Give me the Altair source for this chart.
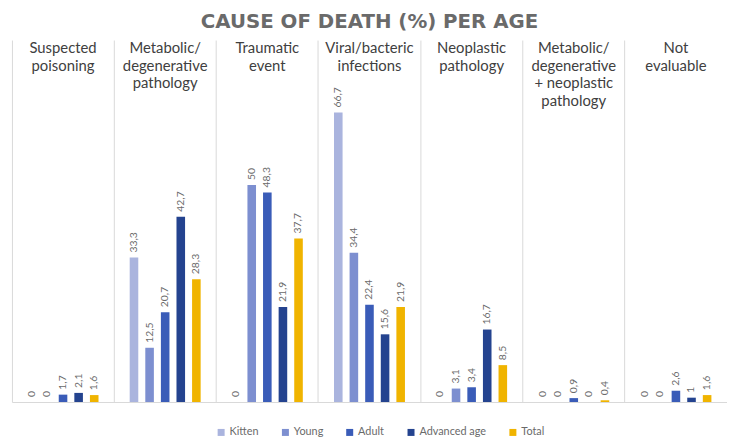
import altair as alt
import pandas as pd

categories = [
    "Suspected poisoning",
    "Metabolic/degenerative pathology",
    "Traumatic event",
    "Viral/bacteric infections",
    "Neoplastic pathology",
    "Metabolic/degenerative + neoplastic pathology",
    "Not evaluable",
]
headers = [
    "Suspected\npoisoning",
    "Metabolic/\ndegenerative\npathology",
    "Traumatic\nevent",
    "Viral/bacteric\ninfections",
    "Neoplastic\npathology",
    "Metabolic/\ndegenerative\n+ neoplastic\npathology",
    "Not\nevaluable",
]
series = ["Kitten", "Young", "Adult", "Advanced age", "Total"]
kitten = [0, 33.3, 0, 66.7, 0, 0, 0]
young = [0, 12.5, 50, 34.4, 3.1, 0, 0]
adult = [1.7, 20.7, 48.3, 22.4, 3.4, 0.9, 2.6]
advanced = [2.1, 42.7, 21.9, 15.6, 16.7, 0, 1]
total = [1.6, 28.3, 37.7, 21.9, 8.5, 0.4, 1.6]
colors = ["#aab4de", "#7d8fd0", "#3a5cb8", "#24438f", "#f0b400"]

values = [kitten, young, adult, advanced, total]


def fmt(v):
    s = str(int(v)) if float(v).is_integer() else str(v)
    return s.replace(".", ",")


rows = []
for s, vals in zip(series, values):
    for c, v in zip(categories, vals):
        rows.append({"cat": c, "series": s, "value": v, "label": fmt(v)})
df = pd.DataFrame(rows)
hdf = pd.DataFrame({"cat": categories, "header": headers})

FONT = "Lato"

x = alt.X(
    "cat:N",
    sort=categories,
    scale=alt.Scale(paddingInner=0, paddingOuter=0),
    axis=alt.Axis(
        labels=False, ticks=False, title=None, grid=True, bandPosition=0,
        gridColor="#d9d9d9", gridWidth=1, domainColor="#d9d9d9", domainWidth=1,
    ),
)
xo = alt.XOffset("series:N", sort=series, scale=alt.Scale(paddingInner=0.45, paddingOuter=1.0))
y = alt.Y("value:Q", scale=alt.Scale(domain=[0, 83.4], nice=False), axis=None)

bars = alt.Chart(df).mark_bar().encode(
    x=x,
    xOffset=xo,
    y=y,
    color=alt.Color(
        "series:N",
        sort=series,
        scale=alt.Scale(domain=series, range=colors),
        legend=alt.Legend(
            title=None, orient="none", direction="horizontal",
            legendX=206, legendY=391, symbolType="square", symbolSize=50,
            labelFontSize=11, labelColor="#6a6a6a", labelFont=FONT,
            columnPadding=21, symbolStrokeWidth=0, labelOffset=3,
        ),
    ),
)

labels = alt.Chart(df).mark_text(
    angle=270, align="left", baseline="middle", dx=5, fontSize=10.5,
    color="#6a6a6a", font=FONT,
).encode(x=alt.X("cat:N", sort=categories), xOffset=xo, y=y, text="label:N")

head = alt.Chart(hdf).mark_text(
    baseline="top", align="center", fontSize=15, color="#404040",
    font=FONT, lineBreak="\n", lineHeight=18,
).encode(x=alt.X("cat:N", sort=categories), y=alt.value(1), text="header:N")

chart = (
    alt.layer(bars, labels, head)
    .properties(
        width=723,
        height=366,
        padding={"left": 4, "top": 2, "right": 0, "bottom": 0},
        title=alt.TitleParams(
            "CAUSE OF DEATH (%) PER AGE", fontSize=20, fontWeight="bold",
            color="#6a6a6a", font="DejaVu Sans", anchor="middle", offset=8,
        ),
    )
    .configure_view(stroke=None)
)
chart.save("out.html", embed_options={"renderer": "svg", "actions": False})
